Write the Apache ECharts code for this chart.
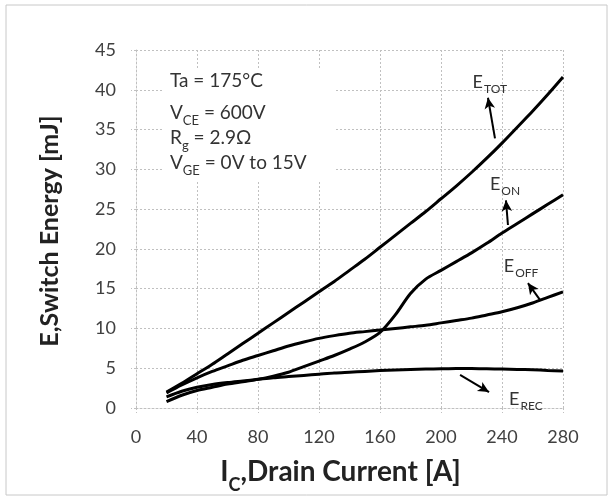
<!DOCTYPE html>
<html>
<head>
<meta charset="utf-8">
<script src="https://cdn.jsdelivr.net/npm/echarts@6/dist/echarts.min.js"></script>
<style>
  html, body { margin: 0; padding: 0; background: #fff; }
  #main { width: 613px; height: 500px; }
</style>
</head>
<body>
<div id="main"></div>
<script>
// drain current (A)
var current = [20, 30, 40, 50, 60, 70, 80, 90, 100, 110, 120, 130, 140, 150, 160, 170, 180, 190, 200, 210, 220, 230, 240, 250, 260, 270, 280];
// switching energies (mJ)
var eTot = [2.0, 3.1, 4.3, 5.5, 6.8, 8.1, 9.4, 10.7, 12.0, 13.3, 14.6, 15.9, 17.3, 18.7, 20.2, 21.7, 23.2, 24.7, 26.3, 27.9, 29.6, 31.4, 33.3, 35.3, 37.3, 39.4, 41.6];
var eOn  = [0.8, 1.6, 2.2, 2.6, 3.0, 3.3, 3.6, 4.0, 4.5, 5.2, 5.9, 6.6, 7.4, 8.3, 9.5, 11.7, 14.4, 16.2, 17.3, 18.4, 19.5, 20.7, 22.0, 23.2, 24.4, 25.6, 26.8];
var eOff = [1.9, 2.9, 3.8, 4.6, 5.3, 6.0, 6.6, 7.2, 7.8, 8.3, 8.75, 9.1, 9.4, 9.6, 9.8, 10.0, 10.2, 10.4, 10.7, 11.0, 11.3, 11.7, 12.1, 12.6, 13.2, 13.9, 14.6];
var eRec = [1.4, 2.1, 2.6, 2.95, 3.2, 3.4, 3.6, 3.8, 3.95, 4.1, 4.25, 4.4, 4.5, 4.6, 4.7, 4.78, 4.85, 4.9, 4.93, 4.95, 4.95, 4.93, 4.9, 4.85, 4.8, 4.72, 4.65];

// curve labels: subscript, label position, arrow base, arrow tip (data units)
var labelNames = ['TOT', 'ON', 'OFF', 'REC'];
var labelAt = [[232, 41.2], [242, 28.4], [252.5, 18.1], [255.7, 1.4]];
var arrowFrom = [[235.4, 33.9], [243.9, 23.0], [264.9, 13.6], [212.5, 4.15]];
var arrowTo = [[230.8, 39.0], [242.6, 26.1], [257, 15.7], [231.5, 2.0]];

var seriesValues = [eTot, eOn, eOff, eRec];

var myChart = echarts.init(document.getElementById('main'));

var gridLine = { show: true, lineStyle: { color: '#c0c0c0', type: [2, 2], width: 1 } };

function pairs(vals) {
    return current.map(function (c, i) { return [c, vals[i]]; });
}

var series = seriesValues.map(function (vals, i) {
    return {
        name: 'E' + labelNames[i],
        type: 'line',
        smooth: 0.3,
        symbol: 'none',
        data: pairs(vals),
        lineStyle: { color: '#000', width: 3 },
        z: 3,
        markLine: {
            silent: true,
            symbol: ['none', 'arrow'],
            symbolSize: [8, 11],
            lineStyle: { color: '#000', width: 2, type: 'solid' },
            label: { show: false },
            data: [[{ coord: arrowFrom[i] }, { coord: arrowTo[i] }]]
        },
        markPoint: {
            silent: true,
            symbolSize: 0,
            label: {
                show: true,
                position: 'inside',
                formatter: '{e|E}{s|' + labelNames[i] + '}',
                rich: {
                    e: { fontSize: 18, color: '#333', fontFamily: 'Lato', lineHeight: 22, verticalAlign: 'bottom' },
                    s: { fontSize: 12, color: '#333', fontFamily: 'Lato', lineHeight: 22, verticalAlign: 'bottom', padding: [0, 0, -4, 1] }
                }
            },
            data: [{ coord: labelAt[i] }]
        }
    };
});

function infoLine(top, parts) {
    return {
        type: 'text',
        left: 170, top: top, z: 11, silent: true,
        style: {
            text: parts,
            font: '19px Lato',
            fill: '#333',
            rich: {
                v: { font: '19px Lato', fill: '#333', lineHeight: 24, verticalAlign: 'bottom' },
                s: { font: '13px Lato', fill: '#333', lineHeight: 24, verticalAlign: 'bottom', padding: [0, 0, -5, 0] }
            }
        }
    };
}

var option = {
    animation: false,
    backgroundColor: '#fff',
    grid: { left: 136, right: 50, top: 50, bottom: 92, outerBoundsMode: 'none' },
    xAxis: {
        type: 'value',
        min: 0, max: 280, interval: 40,
        axisLine: { show: true, lineStyle: { color: '#c0c0c0', type: [2, 2] } },
        axisTick: { show: true, length: 5, lineStyle: { color: '#c0c0c0', type: [2, 2] } },
        splitLine: gridLine,
        axisLabel: { color: '#404040', fontSize: 18, fontFamily: 'Lato', margin: 20 },
        name: '{a|I}{b|C}{a|,Drain Current [A]}',
        nameLocation: 'middle',
        nameGap: 46,
        nameTextStyle: {
            padding: [0, 18, 0, 0],
            rich: {
                a: { fontSize: 28, fontWeight: 'bold', color: '#222', fontFamily: 'Lato', lineHeight: 32, verticalAlign: 'bottom' },
                b: { fontSize: 18, fontWeight: 'bold', color: '#222', fontFamily: 'Lato', lineHeight: 32, verticalAlign: 'bottom', padding: [0, 0, -8, 0] }
            }
        }
    },
    yAxis: {
        type: 'value',
        min: 0, max: 45, interval: 5,
        axisLine: { show: true, lineStyle: { color: '#c0c0c0', type: [2, 2] } },
        axisTick: { show: true, length: 5, lineStyle: { color: '#c0c0c0', type: [2, 2] } },
        splitLine: gridLine,
        axisLabel: { color: '#404040', fontSize: 18, fontFamily: 'Lato', margin: 20 },
        name: 'E,Switch Energy [mJ]',
        nameLocation: 'middle',
        nameGap: 74,
        nameTextStyle: { fontSize: 25, fontWeight: 'bold', color: '#222', fontFamily: 'Lato', padding: [0, 4, 0, 0] }
    },
    graphic: [
        {
            type: 'rect',
            shape: { x: 6, y: 5, width: 601, height: 490 },
            style: { fill: 'none', stroke: '#c8c8c8', lineWidth: 1 },
            silent: true
        },
        {
            type: 'rect',
            shape: { x: 164, y: 68, width: 170, height: 112 },
            style: { fill: '#fff' },
            z: 10, silent: true
        },
        infoLine(71, '{v|Ta = 175°C}'),
        infoLine(103, '{v|V}{s|CE}{v| = 600V}'),
        infoLine(128, '{v|R}{s|g}{v| = 2.9Ω}'),
        infoLine(153, '{v|V}{s|GE}{v| = 0V to 15V}')
    ],
    series: series
};

myChart.setOption(option);

window.onresize = function () {
    myChart.resize();
};
</script>
</body>
</html>
